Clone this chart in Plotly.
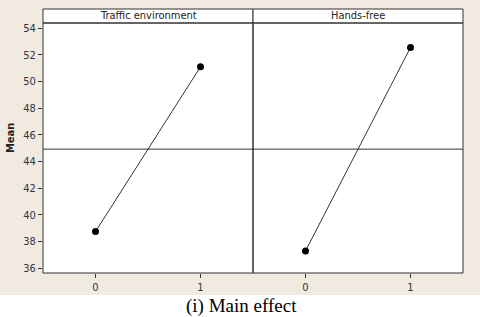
import plotly.graph_objects as go

panels = ["Traffic environment", "Hands-free"]
levels = [0, 1]
means_traffic = [38.75, 51.1]
means_hands = [37.3, 52.55]
grand_mean = 44.93
y_ticks = [36, 38, 40, 42, 44, 46, 48, 50, 52, 54]

W, H = 480, 317
L, R, T, B = 43, 17, 23, 44
pw, ph = W - L - R, H - T - B

BEIGE = "#F0EAE0"
LINE = "#333333"
TICKC = "#333344"
FONT = "DejaVu Sans Condensed"

fig = go.Figure()
for i, vals in enumerate([means_traffic, means_hands]):
    fig.add_trace(go.Scatter(
        x=levels, y=vals, mode="lines+markers",
        line=dict(color=LINE, width=1),
        marker=dict(color="black", size=7),
        xaxis="x" if i == 0 else "x2", yaxis="y",
        showlegend=False, hoverinfo="skip"))

axis_common = dict(range=[-0.5, 1.5], tickvals=levels, ticktext=[str(v) for v in levels],
                   ticks="outside", ticklen=4, tickcolor=LINE, showgrid=False,
                   zeroline=False, showline=False, automargin=False,
                   tickfont=dict(family=FONT, size=11, color=TICKC))
fig.update_layout(
    width=W, height=H,
    margin=dict(l=L, r=R, t=T, b=B, pad=0, autoexpand=False),
    paper_bgcolor=BEIGE, plot_bgcolor="white",
    xaxis=dict(domain=[0, 0.5], **axis_common),
    xaxis2=dict(domain=[0.5, 1], anchor="y", **axis_common),
    yaxis=dict(range=[35.65, 54.38], tickvals=y_ticks, ticks="outside", ticklen=4,
               tickcolor=LINE, showgrid=False, zeroline=False, showline=False,
               automargin=False,
               tickfont=dict(family=FONT, size=11, color=TICKC)),
)

shapes = []
# white caption area
shapes.append(dict(type="rect", xref="paper", yref="paper",
                   x0=-L / pw - 0.01, x1=1 + R / pw + 0.01,
                   y0=-B / ph - 0.01, y1=-(295 - T - ph) / ph,
                   fillcolor="white", line=dict(width=0), layer="below"))
strip_h = 14 / ph
for j in range(2):
    x0, x1 = 0.5 * j, 0.5 * (j + 1)
    shapes.append(dict(type="rect", xref="paper", yref="paper", x0=x0, x1=x1, y0=1, y1=1 + strip_h,
                       fillcolor="white", line=dict(color=LINE, width=1)))
    shapes.append(dict(type="rect", xref="paper", yref="paper", x0=x0, x1=x1, y0=0, y1=1,
                       line=dict(color=LINE, width=1)))
shapes.append(dict(type="line", xref="paper", yref="y", x0=0, x1=1, y0=grand_mean, y1=grand_mean,
                   line=dict(color=LINE, width=1)))
fig.update_layout(shapes=shapes)

annotations = []
for j, name in enumerate(panels):
    annotations.append(dict(xref="paper", yref="paper", x=0.25 + 0.5 * j, y=1 + strip_h / 2,
                            text=name, showarrow=False, xanchor="center", yanchor="middle",
                            font=dict(family=FONT, size=11, color="#222222")))
annotations.append(dict(xref="paper", yref="paper", x=(10 - L) / pw, y=(T + ph - 138) / ph,
                        text="<b>Mean</b>", showarrow=False, textangle=-90,
                        xanchor="center", yanchor="middle",
                        font=dict(family=FONT, size=11, color="#222222")))
annotations.append(dict(xref="paper", yref="paper", x=(241 - L) / pw, y=-(306 - T - ph) / ph,
                        text="(i) Main effect", showarrow=False, xanchor="center", yanchor="middle",
                        font=dict(family="Liberation Serif", size=19, color="black")))
fig.update_layout(annotations=annotations)

fig.write_html("out.html", config={"displayModeBar": False},
               post_script="document.body.style.margin='0';document.body.style.overflow='hidden';")
